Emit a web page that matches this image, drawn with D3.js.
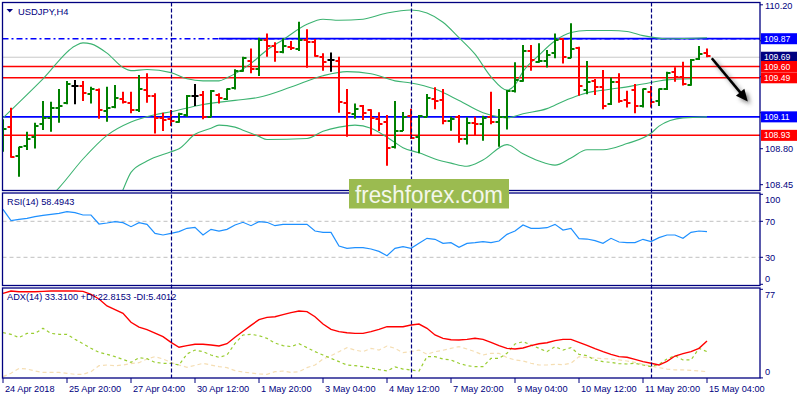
<!DOCTYPE html>
<html><head><meta charset="utf-8">
<script src="https://cdn.jsdelivr.net/npm/d3@7"></script>
<style>body{margin:0;background:#fff}svg{display:block}text{font-family:"Liberation Sans",Arial,sans-serif}</style>
</head><body><svg id="c" width="800" height="400"></svg>
<script>
// ---------- DATA ----------
const symbol = "USDJPY,H4";
const barOpen = [108.820,109.008,108.729,108.826,108.917,109.037,109.095,109.193,109.241,109.413,
109.410,109.332,109.371,109.170,109.202,109.283,109.248,109.176,109.371,109.313,
109.102,109.089,109.063,109.128,109.316,109.322,109.105,109.319,109.283,109.387,
109.556,109.656,109.575,109.857,109.799,109.737,109.793,109.770,109.857,109.841,
109.689,109.660,109.653,109.248,109.134,109.215,109.176,109.089,109.056,108.813,
108.975,109.118,108.910,109.112,109.287,109.274,109.073,109.112,108.891,109.053,
109.037,109.112,109.063,109.112,109.358,109.459,109.754,109.640,109.653,109.728,
109.867,109.686,109.776,109.371,109.459,109.397,109.232,109.452,109.274,109.371,
109.215,109.355,109.264,109.377,109.549,109.494,109.420,109.669,109.734];
const barHigh = [109.086,109.199,108.820,108.966,109.053,109.264,109.257,109.381,109.459,109.468,
109.459,109.403,109.387,109.403,109.420,109.355,109.355,109.517,109.533,109.339,
109.150,109.176,109.150,109.322,109.429,109.361,109.371,109.339,109.387,109.572,
109.695,109.776,109.880,109.922,109.835,109.874,109.848,110.036,109.961,109.867,
109.728,109.737,109.695,109.381,109.241,109.225,109.183,109.154,109.128,109.264,
109.157,109.189,109.128,109.332,109.397,109.381,109.112,109.128,109.105,109.112,
109.121,109.355,109.186,109.371,109.640,109.809,109.809,109.825,109.760,109.922,
109.874,110.020,109.793,109.653,109.478,109.566,109.494,109.533,109.365,109.429,
109.387,109.410,109.387,109.549,109.592,109.647,109.673,109.799,109.776];
const barLow = [108.771,108.713,108.528,108.787,108.803,108.982,108.966,109.053,109.232,109.232,
109.264,109.241,109.092,109.063,109.193,109.241,109.144,109.157,109.248,108.949,
108.972,109.021,109.053,109.112,109.215,109.086,109.105,109.241,109.274,109.377,
109.549,109.533,109.507,109.695,109.647,109.728,109.760,109.750,109.588,109.695,
109.559,109.549,109.150,108.917,109.092,109.079,108.933,108.972,108.635,108.803,
108.972,108.894,108.755,109.105,109.183,109.037,108.975,108.859,108.842,108.933,
108.878,109.037,108.820,108.988,109.348,109.452,109.559,109.637,109.591,109.679,
109.630,109.679,109.316,109.329,109.322,109.183,109.225,109.248,109.202,109.144,
109.202,109.202,109.215,109.371,109.452,109.416,109.413,109.663,109.689];
const barClose = [108.988,108.722,108.820,108.891,109.021,109.095,109.193,109.215,109.429,109.413,
109.345,109.384,109.176,109.193,109.290,109.257,109.176,109.377,109.313,109.095,
109.079,109.073,109.134,109.313,109.316,109.112,109.361,109.293,109.381,109.559,
109.679,109.575,109.857,109.799,109.741,109.799,109.776,109.857,109.835,109.702,
109.647,109.660,109.254,109.144,109.183,109.150,109.095,109.037,108.810,108.975,
109.112,108.904,109.118,109.290,109.267,109.073,109.089,108.894,109.053,109.040,
109.095,109.056,109.112,109.361,109.468,109.754,109.663,109.656,109.711,109.857,
109.689,109.770,109.413,109.452,109.403,109.215,109.446,109.267,109.241,109.219,
109.381,109.257,109.377,109.533,109.494,109.426,109.663,109.721,109.702];

// Bollinger bands read at sampled bars: [bar index, price]
const bbUpper = [[0,109.10],[5,109.48],[9,109.80],[10,109.83],[11,109.82],[13,109.73],[15,109.59],[16,109.56],[18,109.57],[21,109.54],[23,109.48],[25,109.46],[27,109.46],[28,109.49],[31,109.63],[33,109.76],[35,109.86],[38,110.01],[40,110.06],[42,110.05],[45,110.06],[48,110.12],[51,110.15],[53,110.12],[55,110.03],[57,109.88],[59,109.72],[61,109.50],[63,109.37],[64,109.42],[65,109.55],[67,109.71],[69,109.85],[71,109.93],[73,109.95],[76,109.95],[78,109.94],[80,109.90],[83,109.87],[88,109.88]];
const bbMiddle = [[6,108.34],[7,108.42],[10,108.70],[13,108.93],[16,109.06],[19,109.13],[21,109.16],[25,109.23],[29,109.27],[32,109.30],[36,109.40],[40,109.51],[43,109.55],[46,109.53],[49,109.46],[51,109.44],[54,109.38],[57,109.27],[60,109.15],[62,109.11],[63,109.10],[65,109.14],[68,109.19],[70,109.26],[72,109.32],[74,109.36],[75,109.37],[77,109.39],[80,109.43],[83,109.47],[86,109.48]];
const bbLower = [[14,108.22],[15,108.40],[16,108.57],[18,108.68],[21,108.77],[22,108.80],[24,108.94],[26,109.00],[27,109.03],[29,109.01],[30,108.98],[32,108.92],[33,108.89],[38,108.90],[40,108.97],[42,109.01],[44,109.03],[46,109.00],[47,108.96],[49,108.86],[50,108.81],[52,108.76],[54,108.70],[56,108.66],[58,108.63],[60,108.69],[63,108.84],[65,108.75],[67,108.68],[69,108.64],[71,108.71],[73,108.79],[75,108.79],[78,108.85],[81,108.95],[82,109.02],[85,109.10],[88,109.11]];

const rsiValues = [83.3,70.7,72.2,73.3,75.1,76.6,77.7,78.9,80.7,79.6,
77.0,77.0,67.0,68.1,69.6,68.5,64.0,68.5,66.6,56.6,
54.8,56.6,58.5,62.2,63.3,54.8,61.1,59.2,61.1,65.9,
68.9,65.1,69.6,68.9,65.1,66.6,66.6,66.6,66.6,59.2,
57.7,57.7,42.5,40.0,40.7,40.7,39.2,36.6,31.8,40.0,
41.8,40.0,45.5,51.1,50.0,45.5,46.3,41.1,45.5,46.3,
47.4,46.3,48.1,55.5,59.2,65.9,62.2,62.2,62.9,66.6,
60.3,62.2,50.7,50.3,48.5,45.5,51.1,47.0,46.3,46.3,
50.0,47.4,51.8,54.8,54.8,51.1,57.7,59.2,58.5];
const adxValues = [73.5,75.5,74.9,74.9,74.9,75.2,75.5,75.5,75.5,75.5,
75.2,72.6,68.6,62.5,59.3,56.1,48.3,44.2,41.9,39.0,
35.8,30.9,26.6,28.0,29.2,29.2,28.6,27.7,29.7,35.3,
40.5,45.7,50.6,52.6,53.2,55.0,56.7,58.1,57.6,53.2,
46.8,42.2,40.2,39.3,38.7,38.7,40.2,42.2,44.5,44.5,
44.5,46.0,46.8,43.1,37.3,34.4,33.2,32.9,33.5,34.4,
33.5,30.9,28.0,25.7,25.1,26.0,28.0,29.7,30.6,32.4,
33.5,33.5,30.9,28.3,25.4,22.8,20.5,18.5,17.9,16.1,
14.1,12.7,11.2,14.4,19.0,21.1,22.8,25.7,32.0];
const plusDI = [39.3,37.9,35.0,38.7,38.7,43.1,38.7,37.9,37.9,33.5,
29.7,25.7,22.2,20.5,18.5,16.1,13.5,17.6,16.7,13.5,
12.7,12.7,11.2,20.8,24.2,22.8,19.9,17.9,19.9,30.0,
37.3,37.9,36.7,34.4,30.3,28.0,27.2,29.7,26.3,22.8,
19.9,17.0,14.1,11.2,10.6,9.8,8.6,7.2,6.0,9.5,
7.7,6.9,6.0,18.5,18.5,16.4,15.6,12.7,10.6,9.8,
9.8,17.0,17.0,21.4,29.5,31.5,28.6,25.7,22.8,27.2,
24.2,26.3,20.5,19.3,15.6,14.1,13.5,12.4,12.1,12.7,
11.2,9.8,11.8,16.4,19.3,15.6,15.6,25.7,22.8];
const minusDI = [1.1,4.0,8.3,7.7,6.0,4.8,4.8,4.8,4.0,3.1,
3.1,5.4,10.6,11.2,10.6,11.2,12.4,13.2,16.4,18.5,
16.4,13.5,11.2,9.2,10.9,12.7,11.2,9.8,8.9,6.3,
5.1,4.3,3.4,3.1,5.4,6.0,4.8,5.4,8.9,11.2,
16.4,19.3,22.8,26.3,24.2,22.8,25.7,24.2,27.7,25.7,
21.9,22.8,24.2,20.5,22.8,24.0,25.7,27.2,25.1,22.8,
19.9,21.4,21.4,17.6,15.6,14.7,12.7,11.2,11.2,11.8,
11.5,12.7,18.5,17.6,17.3,16.7,16.4,15.6,14.7,13.5,
11.8,10.3,8.9,7.7,6.9,6.9,6.6,6.0,5.4];

const rsiLabel = "RSI(14) 58.4943";
const adxLabel = "ADX(14) 33.3100 +DI:22.8153 -DI:5.4012";
const timeTickIdx = [0,8,16,24,32,40,48,56,64,72,80,88];
const timeTickLabels = ["24 Apr 2018","25 Apr 20:00","27 Apr 04:00","30 Apr 12:00","1 May 20:00","3 May 04:00","4 May 12:00","7 May 20:00","9 May 04:00","10 May 12:00","11 May 20:00","15 May 04:00"];
const separatorIdx = [21,51,81];
const priceTicks = [110.20,109.85,109.50,109.15,108.80,108.45];
const priceTickLabels = ["110.20","","","","108.80","108.45"]; // middle ones hidden behind level boxes
const rsiTicks = [100,70,30,0];
const rsiLevels = [70,30];
const adxTicks = [77,0];
const redLevels = [109.60,109.49,108.93];
const blueLevels = [109.11];
const resistanceLevel = 109.87;
const resistanceStartIdx = 27;
const currentPrice = 109.69;
const priceBoxes = [
  {v:109.87,label:"109.87",fill:"#0000ff"},
  {v:109.69,label:"109.69",fill:"#000080"},
  {v:109.60,label:"109.60",fill:"#ff0000"},
  {v:109.49,label:"109.49",fill:"#ff0000"},
  {v:109.11,label:"109.11",fill:"#0000ff"},
  {v:108.93,label:"108.93",fill:"#ff0000"}];
const arrowFrom = [88.6,109.68];
const arrowTo = [93.1,109.26];
const logoText = "freshforex.com";

// ---------- LAYOUT ----------
const navy = "#000080";
const L = 2.5, R = 760;
const P = {main:[2.5,190.5], rsi:[193,285.5], adx:[288,378]};
const x = d3.scaleLinear().domain([0,88]).range([3,707]);
const yP = d3.scaleLinear().domain([108.45,110.20]).range([184.7,4.8]);
const yR = d3.scaleLinear().domain([0,100]).range([284.3,194.3]);
const yA = d3.scaleLinear().domain([0,77]).range([377.9,289.3]);

const svg = d3.select("#c");
const defs = svg.append("defs");
for (const k in P) {
  defs.append("clipPath").attr("id","clip-"+k).append("rect")
    .attr("x",L).attr("y",P[k][0]).attr("width",R-L).attr("height",P[k][1]-P[k][0]);
}
const blur = defs.append("filter").attr("id","shadow").attr("x","-10%").attr("y","-300%").attr("width","120%").attr("height","700%");
blur.append("feGaussianBlur").attr("stdDeviation",2.2);
const blur2 = defs.append("filter").attr("id","ashadow").attr("x","-50%").attr("y","-50%").attr("width","200%").attr("height","200%");
blur2.append("feGaussianBlur").attr("stdDeviation",2);

svg.append("rect").attr("width",800).attr("height",400).attr("fill","#fff");

// ---------- MAIN PANEL ----------
const gm = svg.append("g").attr("clip-path","url(#clip-main)");
const hline = (g, v, x1, color, w, dash) => g.append("line")
  .attr("x1",x1).attr("x2",R).attr("y1",yP(v)).attr("y2",yP(v))
  .attr("stroke",color).attr("stroke-width",w).attr("stroke-dasharray",dash||null);
[resistanceLevel].forEach(v=>gm.append("line").attr("x1",x(resistanceStartIdx)).attr("x2",R)
  .attr("y1",yP(v)+2).attr("y2",yP(v)+2).attr("stroke","#777").attr("stroke-width",5).attr("opacity",0.55).attr("filter","url(#shadow)"));
blueLevels.forEach(v=>gm.append("line").attr("x1",L).attr("x2",R)
  .attr("y1",yP(v)+2).attr("y2",yP(v)+2).attr("stroke","#777").attr("stroke-width",5).attr("opacity",0.55).attr("filter","url(#shadow)"));
hline(gm, currentPrice, L, "#c8c8c8", 1);
redLevels.forEach(v=>hline(gm, v, L, "#ff0000", 1.5));
hline(gm, resistanceLevel, L, "#0000ff", 1.5, "6,3,2,3");
hline(gm, resistanceLevel, x(resistanceStartIdx), "#0000ff", 1.8);
blueLevels.forEach(v=>hline(gm, v, L, "#0000ff", 1.8));

// bollinger
const bbLine = d3.line().x(d=>x(d[0])).y(d=>yP(d[1])).curve(d3.curveMonotoneX);
[bbUpper,bbMiddle,bbLower].forEach(b=>gm.append("path").attr("d",bbLine(b))
  .attr("fill","none").attr("stroke","#3cb371").attr("stroke-width",1.1));

// bars
const idx = d3.range(barOpen.length);
const col = i => barClose[i]>barOpen[i] ? "#008000" : barClose[i]<barOpen[i] ? "#ff0000" : "#000000";
const gb = gm.append("g");
idx.forEach(i=>{
  const g = gb.append("g").attr("stroke",col(i)).attr("stroke-width",2);
  g.append("line").attr("x1",x(i)).attr("x2",x(i)).attr("y1",yP(barHigh[i])).attr("y2",yP(barLow[i]));
  g.append("line").attr("x1",x(i)-3.5).attr("x2",x(i)).attr("y1",Math.round(yP(barOpen[i]))).attr("y2",Math.round(yP(barOpen[i])));
  g.append("line").attr("x1",x(i)).attr("x2",x(i)+3.5).attr("y1",Math.round(yP(barClose[i]))).attr("y2",Math.round(yP(barClose[i])));
});

// arrow
const ax1=x(arrowFrom[0]), ay1=yP(arrowFrom[1]), ax2=x(arrowTo[0]), ay2=yP(arrowTo[1]);
const ang = Math.atan2(ay2-ay1, ax2-ax1);
const head = (ox,oy)=>{
  const hl=12, hw=5.5;
  const bx=ax2+ox-hl*Math.cos(ang), by=ay2+oy-hl*Math.sin(ang);
  return `M${ax2+ox},${ay2+oy}L${bx-hw*Math.sin(ang)},${by+hw*Math.cos(ang)}L${bx+hw*Math.sin(ang)},${by-hw*Math.cos(ang)}Z`;
};
const ga = svg.append("g");
ga.append("line").attr("x1",ax1+3).attr("y1",ay1+3).attr("x2",ax2+3-6*Math.cos(ang)).attr("y2",ay2+3-6*Math.sin(ang))
  .attr("stroke","#555").attr("stroke-width",3).attr("opacity",0.6).attr("filter","url(#ashadow)");
ga.append("path").attr("d",head(3,3)).attr("fill","#555").attr("opacity",0.6).attr("filter","url(#ashadow)");
ga.append("line").attr("x1",ax1).attr("y1",ay1).attr("x2",ax2-6*Math.cos(ang)).attr("y2",ay2-6*Math.sin(ang))
  .attr("stroke","#000").attr("stroke-width",2.6);
ga.append("path").attr("d",head(0,0)).attr("fill","#000");

// ---------- RSI ----------
const gr = svg.append("g").attr("clip-path","url(#clip-rsi)");
rsiLevels.forEach(v=>gr.append("line").attr("x1",L).attr("x2",R).attr("y1",yR(v)).attr("y2",yR(v))
  .attr("stroke","#c0c0c0").attr("stroke-dasharray","4,3"));
gr.append("path").attr("d",d3.line().x((d,i)=>x(i)).y(d=>yR(d))(rsiValues))
  .attr("fill","none").attr("stroke","#1e90ff").attr("stroke-width",1.2);

// ---------- ADX ----------
const gx = svg.append("g").attr("clip-path","url(#clip-adx)");
const la = d3.line().x((d,i)=>x(i)).y(d=>yA(d));
gx.append("path").attr("d",la(minusDI)).attr("fill","none").attr("stroke","#f5deb3").attr("stroke-width",1.2).attr("stroke-dasharray","4,3");
gx.append("path").attr("d",la(plusDI)).attr("fill","none").attr("stroke","#9acd32").attr("stroke-width",1.2).attr("stroke-dasharray","3,3");
gx.append("path").attr("d",la(adxValues)).attr("fill","none").attr("stroke","#ff0000").attr("stroke-width",1.4);

// ---------- separators ----------
separatorIdx.forEach(i=>svg.append("line").attr("x1",x(i)+0.5).attr("x2",x(i)+0.5).attr("y1",P.main[0]).attr("y2",P.adx[1])
  .attr("stroke",navy).attr("stroke-width",1.2).attr("stroke-dasharray","4,2"));

// ---------- frames ----------
for (const k in P) {
  svg.append("rect").attr("x",L).attr("y",P[k][0]).attr("width",R-L).attr("height",P[k][1]-P[k][0])
    .attr("fill","none").attr("stroke",navy).attr("stroke-width",1.3);
}

// ---------- right axes ----------
const axisText = (y, t) => svg.append("text").attr("x",765).attr("y",y+3.3).attr("font-size",9.2).attr("fill",navy).text(t);
const tick = y => svg.append("line").attr("x1",R).attr("x2",R+3).attr("y1",y).attr("y2",y).attr("stroke",navy);
priceTicks.forEach((v,k)=>{ tick(yP(v)); if (priceTickLabels[k]) axisText(Math.max(yP(v),5.8), priceTickLabels[k]); });
rsiTicks.forEach(v=>{ const y=yR(v); tick(y); axisText(Math.min(Math.max(y,P.rsi[0]+6.3),P.rsi[1]-6.5), String(v)); });
adxTicks.forEach(v=>{ const y=yA(v); tick(y); axisText(Math.min(Math.max(y,P.adx[0]+6.3),P.adx[1]-6), String(v)); });
priceBoxes.forEach(b=>{
  const y=yP(b.v);
  svg.append("rect").attr("x",761).attr("y",y-5.5).attr("width",36).attr("height",11).attr("fill",b.fill);
  svg.append("text").attr("x",764).attr("y",y+3.1).attr("font-size",8.6).attr("fill","#fff").text(b.label);
});

// ---------- time axis ----------
timeTickIdx.forEach((i,k)=>{
  svg.append("line").attr("x1",x(i)).attr("x2",x(i)).attr("y1",P.adx[1]).attr("y2",P.adx[1]+5).attr("stroke",navy);
  svg.append("text").attr("x",x(i)+2).attr("y",392).attr("font-size",9.2).attr("fill",navy).text(timeTickLabels[k]);
});

// ---------- titles ----------
svg.append("path").attr("d","M6.5,9L13,9L9.75,12.5Z").attr("fill",navy);
svg.append("text").attr("x",18).attr("y",14.5).attr("font-size",9.4).attr("fill",navy).text(symbol);
svg.append("text").attr("x",7).attr("y",204.5).attr("font-size",9.2).attr("fill",navy).text(rsiLabel);
svg.append("text").attr("x",7).attr("y",300).attr("font-size",9.2).attr("fill",navy).text(adxLabel);

// ---------- logo ----------
svg.append("rect").attr("x",349).attr("y",179).attr("width",160).attr("height",29.5).attr("fill","#9bbb50");
svg.append("text").attr("x",429).attr("y",202.5).attr("text-anchor","middle").attr("font-size",23)
  .attr("font-family","'Open Sans',sans-serif").attr("fill","#f4f7ec").attr("textLength",148).attr("lengthAdjust","spacingAndGlyphs").text(logoText);
</script></body></html>
